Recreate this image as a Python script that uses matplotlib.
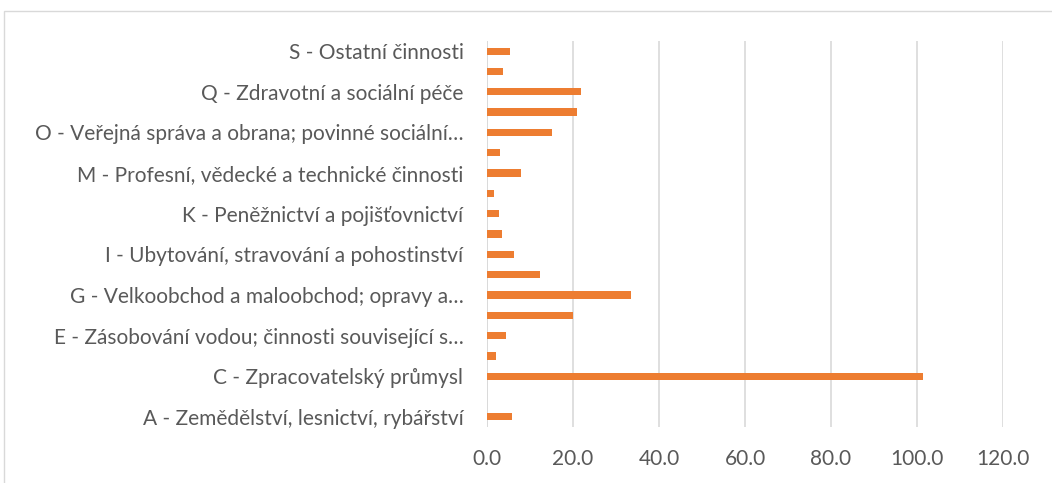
import matplotlib.pyplot as plt
from matplotlib.patches import Rectangle

# NACE sections, bottom (A) to top (S)
codes = ["A", "B", "C", "D", "E", "F", "G", "H", "I", "J",
         "K", "L", "M", "N", "O", "P", "Q", "R", "S"]
values = [5.8, 0.0, 101.3, 2.0, 4.4, 20.0, 33.6, 12.3, 6.3, 3.5,
          2.7, 1.6, 7.8, 3.0, 15.0, 20.9, 21.8, 3.8, 5.4]
# only every other label is shown (Excel skips them)
shown_labels = {
    "A": "A - Zemědělství, lesnictví, rybářství",
    "C": "C - Zpracovatelský průmysl",
    "E": "E - Zásobování vodou; činnosti související s…",
    "G": "G - Velkoobchod a maloobchod; opravy a…",
    "I": "I - Ubytování, stravování a pohostinství",
    "K": "K - Peněžnictví a pojišťovnictví",
    "M": "M - Profesní, vědecké a technické činnosti",
    "O": "O - Veřejná správa a obrana; povinné sociální…",
    "Q": "Q - Zdravotní a sociální péče",
    "S": "S - Ostatní činnosti",
}
xticks = [0, 20, 40, 60, 80, 100, 120]

plt.rcParams['font.family'] = ['Lato', 'DejaVu Sans']

fig = plt.figure(figsize=(10.52, 4.83), dpi=100)
ax = fig.add_axes([487 / 1052, 1 - 427 / 483, 516 / 1052, 386 / 483])

# chart border (left and top edges visible)
fig.patches.append(Rectangle((4 / 1052, -0.1), 1.2, (483 - 11) / 483 + 0.1,
                             transform=fig.transFigure, fill=False,
                             edgecolor='#D9D9D9', linewidth=1))

pos = list(range(len(codes)))
ax.barh(pos, values, height=0.36, color='#ED7D31', zorder=3)

ax.set_xlim(0, 120)
ax.set_ylim(-0.5, len(codes) - 0.5)
ax.set_xticks(xticks)
ax.set_xticklabels([f"{v:.1f}" for v in xticks])
ax.set_yticks(pos)
ax.set_yticklabels([shown_labels.get(c, "") for c in codes])

ax.xaxis.grid(True, color='#D9D9D9', linewidth=1.2, zorder=0)
ax.axvline(0, color='#D9D9D9', linewidth=1.2, zorder=1)
for s in ax.spines.values():
    s.set_visible(False)
ax.tick_params(axis='both', length=0, labelsize=15, labelcolor='#595959')
ax.tick_params(axis='y', pad=17)
ax.tick_params(axis='x', pad=16)

fig.savefig("out.png", dpi=100)
